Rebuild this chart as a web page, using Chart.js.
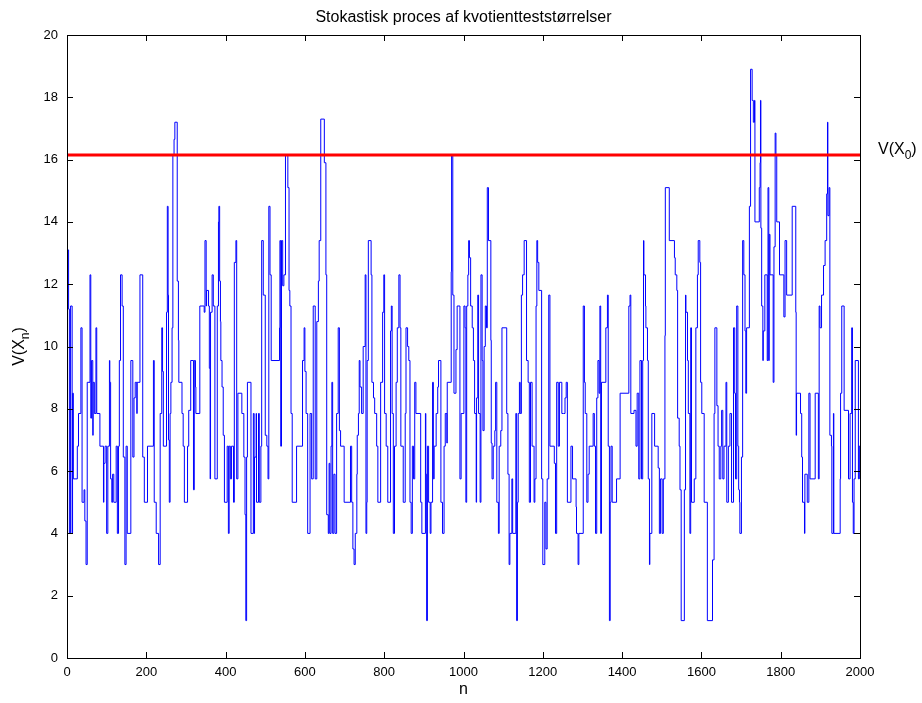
<!DOCTYPE html>
<html>
<head>
<meta charset="utf-8">
<script src="https://cdn.jsdelivr.net/npm/chart.js@4"></script>
<style>body{margin:0;background:#fff}</style>
</head>
<body>
<canvas id="chart" width="922" height="703"></canvas>
<script>
// step path of V(X_n) as [n, value] change points
const path0 = [[0,13.1],[4,11.2],[6,4.0],[9,11.3],[13,4.0],[14,8.5],[16,5.75],[26,6.8],[29,7.85],[35,10.6],[38,5.0],[43,5.4],[45,4.4],[48,3.0],[51,8.85],[58,12.3],[60,7.7],[62,9.55],[65,7.15],[66,8.85],[69,7.85],[73,10.6],[75,7.85],[83,6.8],[92,5.0],[93,6.25],[96,6.8],[100,4.0],[103,6.8],[107,9.55],[108,8.85],[110,5.75],[113,5.0],[115,5.9],[118,5.0],[124,6.8],[127,4.0],[130,6.8],[132,9.55],[135,12.3],[139,11.3],[142,6.45],[146,3.0],[149,6.8],[152,4.0],[161,9.55],[166,6.45],[169,8.35],[172,8.85],[176,7.85],[177,8.85],[184,12.3],[191,6.45],[195,5.0],[203,6.8],[218,9.55],[220,5.0],[225,4.0],[231,3.0],[235,7.85],[239,10.6],[241,9.2],[243,6.8]];
const path250 = [[250,6.8],[251,11.1],[253,14.5],[255,11.65],[256,7.0],[258,5.0],[260,7.85],[262,8.85],[265,10.6],[267,16.15],[270,16.65],[272,17.2],[278,12.1],[281,10.2],[282,8.85],[290,7.85],[293,6.8],[296,5.0],[304,6.8],[307,7.95],[312,9.55],[319,5.4],[321,9.55],[324,8.7],[325,7.85],[335,11.3],[346,11.1],[348,13.4],[351,11.3],[352,11.8],[357,11.3],[359,9.3],[361,5.75],[362,11.1],[366,12.3],[369,11.3],[373,5.75],[379,11.3],[382,14.0],[383,14.5],[385,12.1],[387,10.8],[388,9.55],[391,8.7],[394,7.15],[397,5.0],[404,6.8],[407,4.0],[409,6.8],[412,5.75],[415,6.8],[420,5.0],[422,12.7],[426,13.4],[428,5.75],[431,8.5],[441,7.85],[446,6.45],[449,4.6],[451,1.2],[453,6.45],[455,8.85],[464,4.0],[470,7.85],[472,4.0],[473,6.45],[477,7.85],[478,5.0],[483,7.85],[485,5.0],[489,6.8],[491,13.4],[495,11.65]];
const path500 = [[500,7.15],[504,6.8],[507,5.75],[509,14.5],[512,12.3],[515,9.55],[536,10.6],[537,13.4],[539,6.8],[541,13.4],[544,11.95],[547,12.3],[551,16.15],[557,15.1],[560,11.8],[562,11.3],[565,7.85],[568,5.0],[579,6.8],[594,9.55],[598,10.6],[600,9.2],[603,7.85],[607,4.0],[613,7.85],[617,5.75],[621,11.3],[626,5.75],[630,10.8],[634,12.1],[636,13.4],[640,17.3],[649,15.9],[653,12.3],[655,4.6],[659,4.0],[661,6.25],[663,4.0],[666,6.8],[668,8.85],[670,4.0],[673,5.9],[676,4.0],[680,7.85],[684,10.6],[687,7.3],[690,6.8],[699,5.0],[715,6.8],[718,5.0],[721,3.5],[724,3.0],[727,4.0],[731,5.9],[732,7.15],[735,7.85],[737,9.55],[739,8.7],[743,7.85],[747,10.0]];
const path750 = [[752,12.3],[754,4.0],[756,5.0],[757,9.55],[760,13.4],[767,12.3],[769,8.85],[773,8.35],[776,7.85],[781,6.8],[784,5.0],[791,8.85],[796,11.1],[799,12.3],[801,7.85],[805,6.8],[809,5.0],[816,10.5],[818,11.3],[820,7.85],[823,4.0],[826,6.8],[830,8.85],[833,10.6],[837,12.3],[840,10.6],[842,6.8],[848,5.0],[853,7.85],[855,10.6],[859,10.0],[862,9.55],[865,5.0],[868,4.0],[871,6.8],[874,5.75],[877,8.85],[880,7.85],[892,5.0],[895,4.0],[904,7.85],[905,5.9],[907,1.2],[909,6.8],[912,5.0],[916,4.0],[918,5.0],[922,8.85],[924,5.75],[926,6.8],[931,7.85],[935,8.7],[937,9.55],[943,5.0],[947,4.0],[951,6.8],[954,7.85],[958,6.9],[959,8.85],[969,12.4],[970,16.15],[973,11.65],[976,8.5],[981,9.9],[984,11.3],[991,5.75],[994,7.85],[1001,11.3]];
const path1000 = [[1004,10.6],[1006,5.0],[1008,11.3],[1011,12.3],[1013,13.4],[1015,12.85],[1018,11.3],[1022,10.6],[1025,9.55],[1028,7.85],[1032,5.0],[1033,8.35],[1036,11.65],[1038,7.85],[1042,5.0],[1044,12.3],[1047,9.55],[1049,7.3],[1052,10.0],[1055,11.3],[1058,10.6],[1060,15.1],[1063,13.4],[1069,10.2],[1070,6.9],[1072,5.75],[1075,6.8],[1079,7.3],[1081,8.85],[1084,5.0],[1088,4.0],[1090,6.8],[1094,7.3],[1097,10.6],[1109,7.85],[1112,5.9],[1115,3.0],[1117,4.0],[1122,5.75],[1124,4.0],[1132,7.85],[1134,1.2],[1136,5.0],[1138,7.85],[1141,8.85],[1143,7.85],[1146,11.65],[1149,12.3],[1153,13.4],[1159,9.55],[1163,8.85],[1166,5.0],[1169,8.85],[1173,6.8],[1178,5.0],[1180,5.75],[1183,11.3],[1185,13.4],[1187,12.7],[1190,11.8],[1197,5.75],[1200,3.0],[1205,5.0],[1208,3.5],[1211,5.75],[1215,11.65],[1218,6.8],[1229,6.25],[1232,4.0],[1235,8.85],[1239,6.8],[1242,8.85],[1248,7.85]];
const path1250 = [[1252,7.85],[1256,8.35],[1259,8.85],[1262,5.0],[1271,6.8],[1275,5.75],[1284,4.85],[1285,4.0],[1289,3.0],[1291,4.0],[1302,11.3],[1305,8.85],[1307,7.85],[1311,5.0],[1314,5.9],[1317,6.8],[1327,7.85],[1330,6.8],[1333,4.0],[1336,8.35],[1339,9.55],[1342,8.5],[1344,11.3],[1346,4.0],[1348,8.85],[1359,10.6],[1363,11.65],[1365,6.8],[1368,1.2],[1370,5.0],[1372,6.8],[1375,5.0],[1386,5.75],[1395,8.5],[1417,11.3],[1420,11.65],[1422,7.85],[1430,7.95],[1435,6.8],[1438,8.5],[1442,5.75],[1445,9.55],[1449,5.75],[1452,9.55],[1454,13.4],[1455,12.3],[1459,11.3],[1460,10.6],[1464,9.55],[1466,5.75],[1469,3.0],[1470,4.0],[1475,7.85],[1482,6.8],[1491,6.1],[1494,4.0],[1497,5.75],[1501,4.0],[1504,5.75],[1508,10.35]];
const path1500 = [[1509,15.1],[1519,13.4],[1532,12.85],[1534,12.3],[1538,11.8],[1540,7.7],[1544,6.8],[1546,5.4],[1549,1.2],[1557,5.4],[1560,11.65],[1561,11.1],[1565,9.55],[1567,7.85],[1571,4.0],[1573,10.6],[1575,5.0],[1582,5.75],[1586,10.6],[1590,12.3],[1592,13.4],[1596,12.7],[1598,8.85],[1601,7.85],[1607,5.0],[1615,1.2],[1628,3.15],[1632,7.85],[1634,10.6],[1639,8.1],[1642,6.8],[1645,5.75],[1649,6.8],[1651,7.95],[1654,5.75],[1657,6.8],[1662,8.85],[1664,5.0],[1668,6.8],[1672,7.85],[1676,5.0],[1681,10.6],[1684,8.5],[1686,5.75],[1689,11.3],[1692,6.8],[1694,5.4],[1696,5.0],[1697,4.0],[1701,6.45],[1704,13.4],[1707,12.3],[1710,10.5],[1712,8.5],[1714,10.6],[1721,14.5],[1724,18.9],[1728,17.9],[1731,17.2],[1734,17.9],[1735,14.0],[1746,15.1],[1748,15.9]];
const path1750 = [[1749,17.9],[1750,13.8],[1752,11.3],[1755,9.55],[1756,10.5],[1760,12.3],[1766,9.55],[1768,15.1],[1770,9.55],[1771,13.6],[1773,12.3],[1781,8.85],[1783,13.2],[1786,16.85],[1788,16.15],[1790,14.0],[1797,12.3],[1808,10.95],[1811,13.4],[1815,11.65],[1829,14.5],[1838,11.1],[1839,7.15],[1840,8.5],[1850,7.85],[1853,6.45],[1855,5.0],[1860,4.0],[1861,5.9],[1867,5.0],[1871,8.5],[1874,5.75],[1887,8.5],[1895,5.75],[1897,11.3],[1899,10.6],[1903,11.65],[1908,12.6],[1912,13.4],[1916,14.9],[1918,17.2],[1919,14.2],[1922,15.1],[1924,7.15],[1928,6.8],[1929,4.0],[1933,7.85],[1934,4.0],[1950,5.75],[1951,8.5],[1954,11.3],[1960,7.95],[1971,5.75],[1975,7.85],[1979,10.6],[1981,5.0],[1983,4.0],[1985,5.75],[1988,9.55],[1996,5.75],[1998,6.8],[2000,5.75]];

const threshold = 16.15;   // V(X_0)
const xTicks = [0,200,400,600,800,1000,1200,1400,1600,1800,2000];
const yTicks = [0,2,4,6,8,10,12,14,16,18,20];

const path = [].concat(path0, path250, path500, path750, path1000, path1250, path1500, path1750);
const font = 'Liberation Sans, Arial, Helvetica, sans-serif';

// matlab style: box, inward ticks on all four sides, titles
const matlabFrame = {
    id: 'matlabFrame',
    afterDraw(chart) {
        const ctx = chart.ctx;
        const a = chart.chartArea;
        const xs = chart.scales.x, ys = chart.scales.y;
        ctx.save();
        ctx.strokeStyle = '#000';
        ctx.lineWidth = 1;
        ctx.strokeRect(Math.round(a.left) + 0.5, Math.round(a.top) + 0.5, Math.round(a.right - a.left), Math.round(a.bottom - a.top));
        ctx.beginPath();
        xTicks.forEach(v => {
            const x = Math.round(xs.getPixelForValue(v)) + 0.5;
            ctx.moveTo(x, a.bottom); ctx.lineTo(x, a.bottom - 6);
            ctx.moveTo(x, a.top); ctx.lineTo(x, a.top + 6);
        });
        yTicks.forEach(v => {
            const y = Math.round(ys.getPixelForValue(v)) + 0.5;
            ctx.moveTo(a.left, y); ctx.lineTo(a.left + 6, y);
            ctx.moveTo(a.right, y); ctx.lineTo(a.right - 6, y);
        });
        ctx.stroke();

        ctx.fillStyle = '#000';
        ctx.textBaseline = 'middle';
        ctx.textAlign = 'center';
        ctx.font = '16px ' + font;
        ctx.fillText('Stokastisk proces af kvotientteststørrelser', (a.left + a.right) / 2, 18);
        ctx.font = '16px ' + font;
        ctx.fillText('n', (a.left + a.right) / 2, 690);

        // y label V(X_n)
        ctx.save();
        ctx.translate(20, (a.top + a.bottom) / 2);
        ctx.rotate(-Math.PI / 2);
        drawSub(ctx, 'V(X', 'n', ')', 0, 0, true);
        ctx.restore();

        // V(X_0) label next to the red line
        drawSub(ctx, 'V(X', '0', ')', 878, ys.getPixelForValue(threshold) - 5, false);
        ctx.restore();
    }
};

function drawSub(ctx, pre, sub, post, x, y, centered) {
    ctx.font = '16px ' + font;
    const w1 = ctx.measureText(pre).width;
    const w3 = ctx.measureText(post).width;
    ctx.font = '12px ' + font;
    const w2 = ctx.measureText(sub).width;
    let x0 = centered ? x - (w1 + w2 + w3) / 2 : x;
    ctx.textAlign = 'left';
    ctx.textBaseline = 'middle';
    ctx.font = '16px ' + font;
    ctx.fillText(pre, x0, y);
    ctx.font = '12px ' + font;
    ctx.fillText(sub, x0 + w1, y + 6);
    ctx.font = '16px ' + font;
    ctx.fillText(post, x0 + w1 + w2, y);
}

new Chart(document.getElementById('chart'), {
    type: 'line',
    data: {
        datasets: [{
            label: 'V(X0)',
            data: [{x: 0, y: threshold}, {x: 2000, y: threshold}],
            borderColor: '#ff0000',
            borderWidth: 3,
            pointRadius: 0,
            order: 0
        }, {
            label: 'V(Xn)',
            data: path.map(p => ({x: p[0], y: p[1]})),
            stepped: true,
            borderColor: '#0000ff',
            borderWidth: 1,
            pointRadius: 0,
            order: 1
        }]
    },
    options: {
        responsive: false,
        animation: false,
        devicePixelRatio: 1,
        layout: {padding: {left: 0, top: 35, right: 62, bottom: 0}},
        plugins: {legend: {display: false}, tooltip: {enabled: false}},
        scales: {
            x: {
                type: 'linear',
                min: 0,
                max: 2000,
                afterBuildTicks: s => { s.ticks = xTicks.map(v => ({value: v})); },
                afterFit: s => { s.height = 45; },
                grid: {display: false, drawTicks: false},
                border: {display: false},
                ticks: {color: '#000', font: {family: font, size: 13}, padding: 7, maxRotation: 0, callback: v => String(v)}
            },
            y: {
                min: 0,
                max: 20,
                afterBuildTicks: s => { s.ticks = yTicks.map(v => ({value: v})); },
                afterFit: s => { s.width = 67; },
                grid: {display: false, drawTicks: false},
                border: {display: false},
                ticks: {color: '#000', font: {family: font, size: 13}, padding: 9, callback: v => String(v)}
            }
        }
    },
    plugins: [matlabFrame]
});
</script>
</body>
</html>
